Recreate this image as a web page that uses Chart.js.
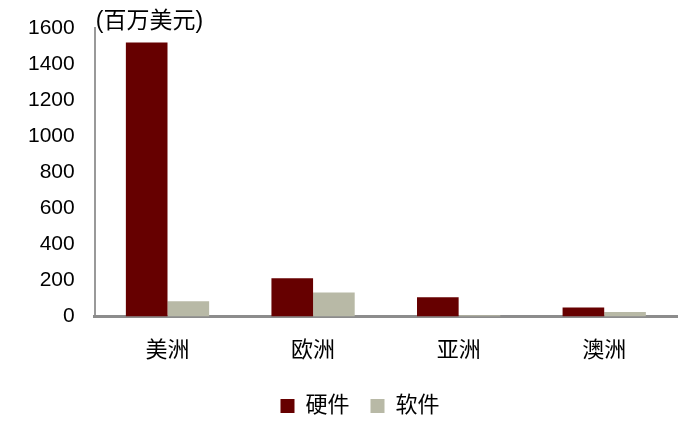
<!DOCTYPE html>
<html>
<head>
<meta charset="utf-8">
<script src="https://cdn.jsdelivr.net/npm/chart.js@4/dist/chart.umd.min.js"></script>
<style>
  body { margin: 0; background: #fff; }
  #wrap { width: 687px; height: 432px; }
</style>
</head>
<body>
<div id="wrap"><canvas id="chart"></canvas></div>
<script>
// Dati (milioni di USD)
const regions = ['美洲', '欧洲', '亚洲', '澳洲'];
const hardware = [1520, 213, 107, 51];
const software = [85, 133, 7, 25];
const unitLabel = '(百万美元)';

const FONT = '"Liberation Sans", Arial, "Noto Sans CJK SC", sans-serif';

// Etichetta unità sopra l'asse y
const unitPlugin = {
    id: 'unitLabel',
    afterDraw(chart) {
        const { ctx, chartArea } = chart;
        ctx.save();
        ctx.font = '23px ' + FONT;
        ctx.fillStyle = '#000';
        ctx.textAlign = 'left';
        ctx.textBaseline = 'middle';
        ctx.fillText(unitLabel, chartArea.left + 1, chartArea.top - 6);
        ctx.restore();
    }
};

// Sposta la legenda: centrata sotto il grafico originale (x ≈ 360)
const legendShift = {
    id: 'legendShift',
    afterLayout(chart) {
        const lg = chart.legend;
        if (!lg) return;
        const dx = 360 - (lg.left + lg.right) / 2;
        lg.left += dx;
        lg.right += dx;
    }
};

new Chart(document.getElementById('chart'), {
    type: 'bar',
    data: {
        labels: regions,
        datasets: [
            {
                label: '硬件',
                data: hardware,
                backgroundColor: '#660000',
                borderWidth: 0,
                categoryPercentage: 0.572,
                barPercentage: 1.0
            },
            {
                label: '软件',
                data: software,
                backgroundColor: '#b8b9a6',
                borderWidth: 0,
                categoryPercentage: 0.572,
                barPercentage: 1.0
            }
        ]
    },
    options: {
        responsive: true,
        maintainAspectRatio: false,
        animation: false,
        layout: {
            padding: { left: 8, right: 10, top: 28, bottom: 5 }
        },
        plugins: {
            legend: {
                position: 'bottom',
                fullSize: false,
                labels: {
                    boxWidth: 14,
                    boxHeight: 14,
                    padding: 21,
                    color: '#000',
                    font: { size: 22, family: FONT }
                }
            },
            tooltip: { enabled: false }
        },
        scales: {
            y: {
                min: 0,
                max: 1600,
                // niente margine extra sopra l'etichetta 1600
                afterFit: scale => { scale.paddingTop = 0; },
                ticks: {
                    stepSize: 200,
                    color: '#000',
                    padding: 20,
                    font: { size: 21, family: FONT },
                    callback: v => String(v)
                },
                grid: { display: false, drawTicks: false },
                border: { display: true, color: '#999999', width: 2 }
            },
            x: {
                afterFit: scale => { scale.height -= 11; },
                ticks: {
                    color: '#000',
                    padding: 21,
                    font: { size: 22, family: FONT }
                },
                grid: { display: false, drawTicks: false },
                border: { display: true, color: '#8c8c8c', width: 3 }
            }
        }
    },
    plugins: [unitPlugin, legendShift]
});
</script>
</body>
</html>
